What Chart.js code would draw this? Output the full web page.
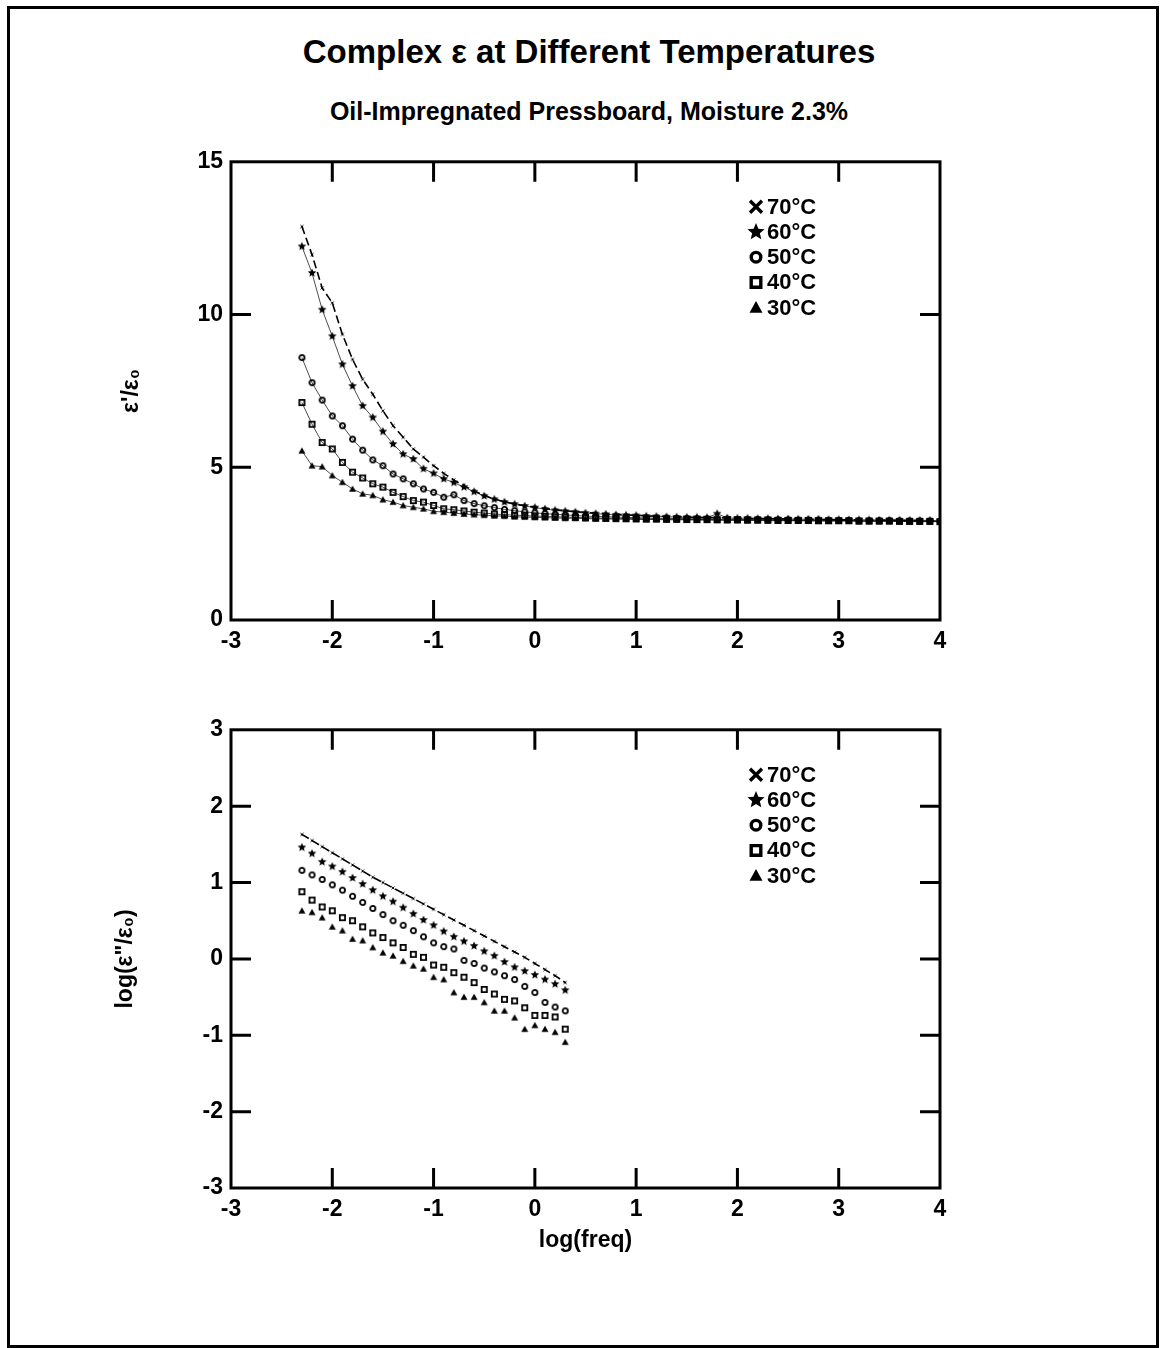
<!DOCTYPE html>
<html>
<head>
<meta charset="utf-8">
<script src="https://cdn.jsdelivr.net/npm/chart.js@4.4.1/dist/chart.umd.min.js"></script>
<style>
  html, body { margin: 0; padding: 0; background: #fff; }
  #page { position: relative; width: 1167px; height: 1348px; overflow: hidden;
          font-family: "Liberation Sans", Arial, Helvetica, sans-serif; color: #000; }
  #frame { position: absolute; left: 7px; top: 6px; width: 1146px; height: 1336px; border: 3px solid #000; }
  #title { position: absolute; left: 0; width: 1178px; top: 35px; line-height: 33px;
           text-align: center; font-weight: bold; font-size: 33px; }
  #subtitle { position: absolute; left: 0; width: 1178px; top: 99px; line-height: 25px;
              text-align: center; font-weight: bold; font-size: 25px; }
  .plot { position: absolute; left: 0; }
  #top-plot { top: 140px; }
  #bottom-plot { top: 708px; }
</style>
</head>
<body>
<div id="page">
  <div id="frame"></div>
  <div id="title">Complex ε at Different Temperatures</div>
  <div id="subtitle">Oil-Impregnated Pressboard, Moisture 2.3%</div>
  <canvas id="top-plot" class="plot" width="1167" height="520"></canvas>
  <canvas id="bottom-plot" class="plot" width="1167" height="560"></canvas>
</div>
<script>
// log(freq) sample points (0.1 decade apart)
const topFreq = [
  -2.3, -2.2, -2.1, -2.0, -1.9, -1.8, -1.7, -1.6, -1.5, -1.4, -1.3, -1.2, -1.1, -1.0, -0.9, -0.8,
  -0.7, -0.6, -0.5, -0.4, -0.3, -0.2, -0.1, 0.0, 0.1, 0.2, 0.3, 0.4, 0.5, 0.6, 0.7, 0.8,
  0.9, 1.0, 1.1, 1.2, 1.3, 1.4, 1.5, 1.6, 1.7, 1.8, 1.9, 2.0, 2.1, 2.2, 2.3, 2.4,
  2.5, 2.6, 2.7, 2.8, 2.9, 3.0, 3.1, 3.2, 3.3, 3.4, 3.5, 3.6, 3.7, 3.8, 3.9, 4.0,
];

// eps'/eps0 per temperature
const epsReal70 = [
  12.88, 11.96, 10.87, 10.38, 9.35, 8.53, 7.88, 7.39, 6.85, 6.36, 5.98, 5.60, 5.33, 5.05, 4.80, 4.58,
  4.40, 4.22, 4.08, 3.96, 3.87, 3.80, 3.74, 3.69, 3.65, 3.61, 3.58, 3.55, 3.52, 3.50, 3.48, 3.46,
  3.44, 3.43, 3.41, 3.40, 3.39, 3.38, 3.37, 3.36, 3.35, 3.35, 3.34, 3.33, 3.33, 3.32, 3.32, 3.31,
  3.31, 3.30, 3.30, 3.29, 3.29, 3.28, 3.28, 3.28, 3.27, 3.27, 3.27, 3.26, 3.26, 3.26, 3.25, 3.25,
];
const epsReal60 = [
  12.23, 11.36, 10.16, 9.29, 8.37, 7.66, 7.01, 6.63, 6.17, 5.76, 5.43, 5.27, 4.95, 4.80, 4.62, 4.50,
  4.35, 4.20, 4.06, 3.95, 3.86, 3.79, 3.73, 3.68, 3.63, 3.59, 3.56, 3.53, 3.50, 3.48, 3.46, 3.44,
  3.43, 3.42, 3.40, 3.39, 3.38, 3.37, 3.36, 3.36, 3.35, 3.48, 3.34, 3.33, 3.33, 3.32, 3.32, 3.31,
  3.31, 3.30, 3.30, 3.30, 3.29, 3.29, 3.28, 3.28, 3.28, 3.27, 3.27, 3.27, 3.26, 3.26, 3.26, 3.25,
];
const epsReal50 = [
  8.59, 7.77, 7.20, 6.68, 6.36, 5.92, 5.56, 5.24, 5.05, 4.78, 4.62, 4.46, 4.29, 4.18, 4.02, 4.10,
  3.91, 3.81, 3.74, 3.68, 3.62, 3.58, 3.54, 3.51, 3.48, 3.46, 3.44, 3.42, 3.40, 3.39, 3.38, 3.37,
  3.36, 3.35, 3.34, 3.33, 3.33, 3.32, 3.32, 3.31, 3.31, 3.30, 3.30, 3.29, 3.29, 3.29, 3.28, 3.28,
  3.28, 3.27, 3.27, 3.27, 3.26, 3.26, 3.26, 3.25, 3.25, 3.25, 3.25, 3.24, 3.24, 3.24, 3.24, 3.23,
];
const epsReal40 = [
  7.12, 6.41, 5.81, 5.60, 5.16, 4.84, 4.65, 4.46, 4.35, 4.18, 4.04, 3.91, 3.86, 3.75, 3.64, 3.61,
  3.57, 3.53, 3.50, 3.47, 3.45, 3.43, 3.42, 3.40, 3.39, 3.38, 3.37, 3.36, 3.35, 3.34, 3.33, 3.33,
  3.32, 3.32, 3.31, 3.31, 3.30, 3.30, 3.29, 3.29, 3.29, 3.28, 3.28, 3.28, 3.27, 3.27, 3.27, 3.26,
  3.26, 3.26, 3.26, 3.25, 3.25, 3.25, 3.25, 3.24, 3.24, 3.24, 3.24, 3.23, 3.23, 3.23, 3.23, 3.22,
];
const epsReal30 = [
  5.54, 5.05, 5.02, 4.73, 4.51, 4.29, 4.13, 4.08, 3.94, 3.86, 3.75, 3.69, 3.64, 3.56, 3.53, 3.50,
  3.47, 3.45, 3.43, 3.41, 3.40, 3.38, 3.37, 3.36, 3.35, 3.34, 3.33, 3.33, 3.32, 3.31, 3.31, 3.30,
  3.30, 3.29, 3.29, 3.29, 3.28, 3.28, 3.28, 3.27, 3.27, 3.27, 3.26, 3.26, 3.26, 3.26, 3.25, 3.25,
  3.25, 3.25, 3.24, 3.24, 3.24, 3.24, 3.24, 3.23, 3.23, 3.23, 3.23, 3.23, 3.22, 3.22, 3.22, 3.22,
];

const bottomFreq = [
  -2.3, -2.2, -2.1, -2.0, -1.9, -1.8, -1.7, -1.6, -1.5, -1.4, -1.3, -1.2, -1.1, -1.0,
  -0.9, -0.8, -0.7, -0.6, -0.5, -0.4, -0.3, -0.2, -0.1, 0.0, 0.1, 0.2, 0.3,
];

// log(eps''/eps0) per temperature
const epsLoss70 = [
  1.63, 1.55, 1.47, 1.39, 1.31, 1.23, 1.15, 1.07, 1.00, 0.93, 0.86, 0.79, 0.72, 0.65,
  0.58, 0.51, 0.44, 0.37, 0.30, 0.23, 0.16, 0.09, 0.02, -0.06, -0.14, -0.22, -0.31,
];
const epsLoss60 = [
  1.46, 1.38, 1.27, 1.21, 1.14, 1.06, 0.98, 0.90, 0.82, 0.75, 0.67, 0.59, 0.51, 0.44,
  0.36, 0.29, 0.23, 0.17, 0.10, 0.04, -0.04, -0.11, -0.16, -0.21, -0.27, -0.33, -0.41,
];
const epsLoss50 = [
  1.16, 1.10, 1.04, 0.97, 0.90, 0.82, 0.74, 0.66, 0.58, 0.50, 0.44, 0.37, 0.29, 0.21,
  0.16, 0.13, -0.02, -0.06, -0.12, -0.17, -0.22, -0.27, -0.36, -0.44, -0.57, -0.63, -0.68,
];
const epsLoss40 = [
  0.88, 0.77, 0.68, 0.63, 0.54, 0.50, 0.42, 0.34, 0.28, 0.21, 0.15, 0.06, 0.02, -0.08,
  -0.11, -0.18, -0.24, -0.31, -0.40, -0.46, -0.53, -0.55, -0.64, -0.74, -0.74, -0.76, -0.92,
];
const epsLoss30 = [
  0.63, 0.61, 0.54, 0.42, 0.37, 0.26, 0.24, 0.15, 0.08, 0.04, -0.03, -0.09, -0.13, -0.24,
  -0.27, -0.44, -0.50, -0.50, -0.57, -0.68, -0.68, -0.77, -0.92, -0.87, -0.92, -0.96, -1.09,
];

const seriesLabels = ["70\u00B0C", "60\u00B0C", "50\u00B0C", "40\u00B0C", "30\u00B0C"];
const seriesMarkers = ["cross", "star", "circle", "square", "triangle"];

const FONT = "'Liberation Sans', Arial, Helvetica, sans-serif";
const TICK_LEN = 20;

function drawMarker(ctx, kind, x, y, s, lw) {
  ctx.save();
  ctx.strokeStyle = "#000";
  ctx.fillStyle = "#000";
  ctx.lineWidth = lw;
  ctx.beginPath();
  const h = s / 2;
  if (kind === "cross") {
    ctx.moveTo(x - h, y - h); ctx.lineTo(x + h, y + h);
    ctx.moveTo(x + h, y - h); ctx.lineTo(x - h, y + h);
    ctx.stroke();
  } else if (kind === "star") {
    for (let k = 0; k < 10; k++) {
      const r = k % 2 ? h * 0.45 : h;
      const a = -Math.PI / 2 + k * Math.PI / 5;
      const px = x + r * Math.cos(a), py = y + r * Math.sin(a);
      if (k === 0) ctx.moveTo(px, py); else ctx.lineTo(px, py);
    }
    ctx.closePath();
    ctx.fill();
  } else if (kind === "circle") {
    ctx.arc(x, y, h - lw / 2, 0, Math.PI * 2);
    ctx.stroke();
  } else if (kind === "square") {
    ctx.rect(x - h + lw / 2, y - h + lw / 2, s - lw, s - lw);
    ctx.stroke();
  } else if (kind === "triangle") {
    ctx.moveTo(x, y - h);
    ctx.lineTo(x + h, y + h * 0.8);
    ctx.lineTo(x - h, y + h * 0.8);
    ctx.closePath();
    ctx.fill();
  }
  ctx.restore();
}

function markerImage(kind, s, lw) {
  const c = document.createElement("canvas");
  const n = Math.ceil(s + lw + 2);
  c.width = n;
  c.height = n;
  drawMarker(c.getContext("2d"), kind, n / 2, n / 2, s, lw);
  return c;
}

function points(xs, ys) {
  return xs.map((x, i) => ({ x, y: ys[i] }));
}

// frame box, inward tick marks and the in-plot legend
const frameAndLegend = {
  id: "frameAndLegend",
  afterDatasetsDraw(chart) {
    const { ctx, chartArea: a, scales } = chart;
    ctx.save();
    ctx.strokeStyle = "#000";
    ctx.lineWidth = 3;
    ctx.strokeRect(a.left, a.top, a.right - a.left, a.bottom - a.top);
    ctx.beginPath();
    for (const t of scales.x.ticks) {
      if (t.value <= scales.x.min || t.value >= scales.x.max) continue;
      const px = scales.x.getPixelForValue(t.value);
      ctx.moveTo(px, a.bottom); ctx.lineTo(px, a.bottom - TICK_LEN);
      ctx.moveTo(px, a.top); ctx.lineTo(px, a.top + TICK_LEN);
    }
    for (const t of scales.y.ticks) {
      if (t.value <= scales.y.min || t.value >= scales.y.max) continue;
      const py = scales.y.getPixelForValue(t.value);
      ctx.moveTo(a.left, py); ctx.lineTo(a.left + TICK_LEN, py);
      ctx.moveTo(a.right, py); ctx.lineTo(a.right - TICK_LEN, py);
    }
    ctx.stroke();

    ctx.font = "bold 22px " + FONT;
    ctx.fillStyle = "#000";
    ctx.textBaseline = "middle";
    ctx.textAlign = "left";
    chart.data.datasets.forEach((ds, i) => {
      const y = a.top + 45 + i * 25.2;
      const big = ds.marker === "star" ? 18 : ds.marker === "cross" ? 12 : 13;
      drawMarker(ctx, ds.marker, a.left + 525, y, big, 3.4);
      ctx.fillText(ds.label, a.left + 536, y + 1);
    });
    ctx.restore();
  },
};

function buildDatasets(xs, ysList, withLines) {
  return ysList.map((ys, i) => {
    const kind = seriesMarkers[i];
    const isFirst = i === 0;
    const open = kind === "circle" || kind === "square";
    return {
      label: seriesLabels[i],
      marker: kind,
      data: points(xs, ys),
      showLine: isFirst || withLines,
      borderColor: "#000",
      borderWidth: isFirst ? 1.6 : 0.7,
      borderDash: isFirst ? [8, 4] : [],
      pointStyle: isFirst ? markerImage("cross", 3, 1) : markerImage(kind, kind === "star" ? 9 : 7, open ? 1.8 : 1),
      pointRadius: 3,
      tension: 0,
    };
  });
}

function axisOptions(yMin, yMax, yStep, yTitle, yTitlePad, xTitle, xHeight) {
  const tickFont = { family: FONT, size: 23, weight: "bold" };
  const titleFont = { family: FONT, size: 23, weight: "bold" };
  return {
    x: {
      type: "linear",
      min: -3, max: 4,
      grid: { display: false, drawTicks: false },
      border: { display: false },
      ticks: { stepSize: 1, color: "#000", font: tickFont, padding: 8 },
      title: xTitle
        ? { display: true, text: xTitle, color: "#000", font: titleFont, padding: { top: 0, bottom: 14 } }
        : { display: false },
      afterFit: (scale) => { scale.height = xHeight; },
    },
    y: {
      type: "linear",
      min: yMin, max: yMax,
      grid: { display: false, drawTicks: false },
      border: { display: false },
      ticks: { stepSize: yStep, color: "#000", font: tickFont, padding: 8 },
      title: { display: true, text: yTitle, color: "#000", font: titleFont, padding: { top: yTitlePad, bottom: 0 } },
      afterFit: (scale) => { scale.width = 131; },
    },
  };
}

function makeChart(id, datasets, scales) {
  return new Chart(document.getElementById(id), {
    type: "scatter",
    data: { datasets },
    options: {
      responsive: false,
      animation: false,
      devicePixelRatio: 1,
      layout: { padding: { top: 20, left: 100, right: 227, bottom: 0 } },
      plugins: { legend: { display: false }, tooltip: { enabled: false } },
      scales,
    },
    plugins: [frameAndLegend],
  });
}

makeChart(
  "top-plot",
  buildDatasets(topFreq, [epsReal70, epsReal60, epsReal50, epsReal40, epsReal30], true),
  axisOptions(0, 15, 5, "\u03B5'/\u03B5\u2080", 18, null, 40)
);

makeChart(
  "bottom-plot",
  buildDatasets(bottomFreq, [epsLoss70, epsLoss60, epsLoss50, epsLoss40, epsLoss30], false),
  axisOptions(-3, 3, 1, "log(\u03B5\"/\u03B5\u2080)", 12, "log(freq)", 80)
);
</script>
</body>
</html>
